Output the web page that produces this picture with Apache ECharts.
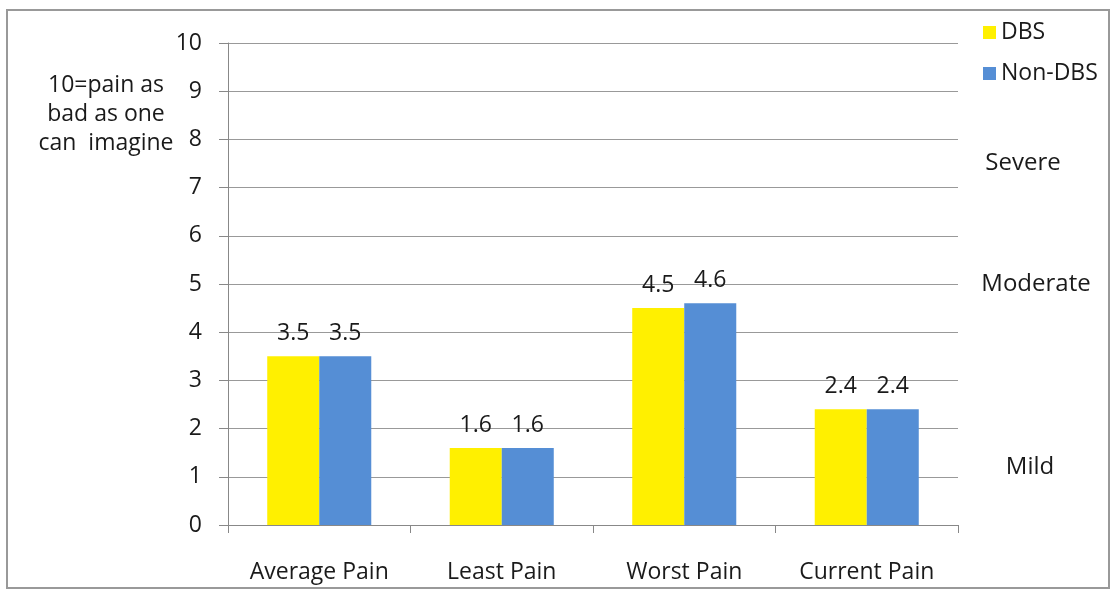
<!DOCTYPE html>
<html><head><meta charset="utf-8">
<script src="https://cdn.jsdelivr.net/npm/echarts@6/dist/echarts.min.js"></script>
<style>html,body{margin:0;padding:0;background:#fff}#c{width:1114px;height:590px}</style>
</head><body><div id="c"></div>
<script>
const categories = ['Average Pain', 'Least Pain', 'Worst Pain', 'Current Pain'];
const dbs = [3.5, 1.6, 4.5, 2.4];
const nonDbs = [3.5, 1.6, 4.6, 2.4];
const yTicks = [0,1,2,3,4,5,6,7,8,9,10];
const severityLabels = ['Severe', 'Moderate', 'Mild'];
const severityLevels = [7.5, 5, 1.2];

const sevX = [1023, 1036, 1030];
const chart = echarts.init(document.getElementById('c'));
const F = '"Open Sans", Lato, sans-serif';
const FS = 23;
const TC = '#1a1a1a';
const lbl = {show:true, position:'top', distance:11, fontSize:FS, color:TC, fontFamily:F, formatter: p => p.value.toFixed(1)};
chart.setOption({
  animation:false,
  grid:{left:228, right:156, top:43, bottom:65},
  legend:{
    data:['DBS','Non-DBS'], orient:'vertical', left:978, top:16, itemGap:18,
    itemWidth:13, itemHeight:13, icon:'rect',
    textStyle:{fontSize:FS, color:TC, fontFamily:F}
  },
  xAxis:{
    type:'category', data:categories,
    axisLine:{lineStyle:{color:'#888'}},
    axisTick:{show:true, length:8, lineStyle:{color:'#888'}},
    axisLabel:{fontSize:FS, color:TC, fontFamily:F, margin:36}
  },
  yAxis:{
    type:'value', min:0, max:10, interval:1,
    axisLine:{show:true, lineStyle:{color:'#888'}},
    axisTick:{show:true, length:9, lineStyle:{color:'#888'}},
    splitLine:{lineStyle:{color:'#999'}},
    axisLabel:{fontSize:FS, color:TC, fontFamily:F, margin:26,
      formatter: v => yTicks.includes(v) ? String(v) : ''}
  },
  series:[
    {name:'DBS', type:'bar', data:dbs, barGap:'0%', barCategoryGap:'43%', itemStyle:{color:'#FFF000'}, label:lbl},
    {name:'Non-DBS', type:'bar', data:nonDbs, itemStyle:{color:'#558ED5'}, label:lbl}
  ]
});
const gs = [
  {type:'rect', shape:{x:7, y:10, width:1102, height:578}, style:{fill:null, stroke:'#999', lineWidth:2}, silent:true},
  {type:'text', x:106, y:71, style:{text:'10=pain as\nbad as one\ncan  imagine', fontSize:FS, lineHeight:29, fill:TC, fontFamily:F, align:'center'}}
];
severityLabels.forEach((t,i) => {
  const y = chart.convertToPixel({yAxisIndex:0}, severityLevels[i]);
  gs.push({type:'text', x:sevX[i], y:y, style:{text:t, fontSize:24, fill:TC, fontFamily:F, align:'center', verticalAlign:'middle'}});
});
chart.setOption({graphic: gs});
</script></body></html>
